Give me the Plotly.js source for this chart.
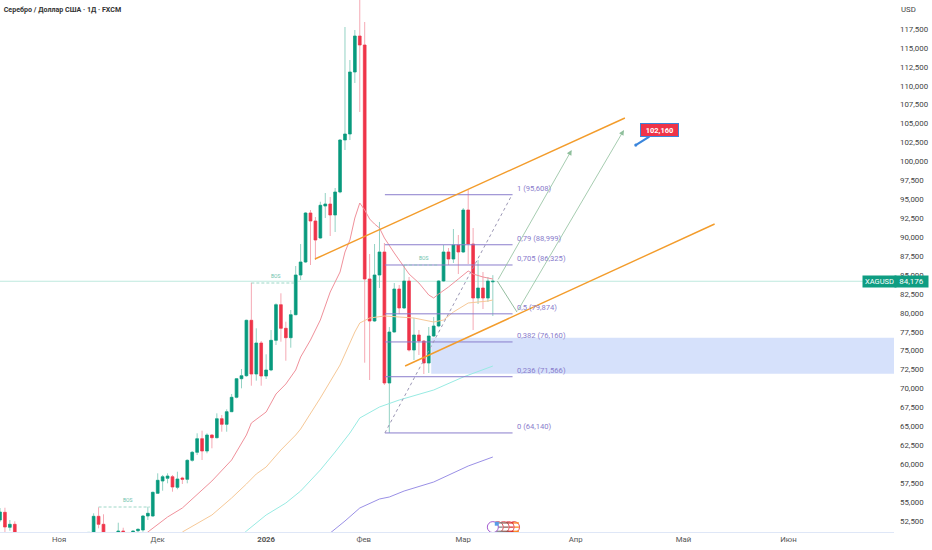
<!DOCTYPE html>
<html><head><meta charset="utf-8">
<script src="https://cdn.plot.ly/plotly-3.0.1.min.js"></script>
<style>html,body{margin:0;padding:0;background:#fff}</style></head>
<body><div id="chart" style="width:932px;height:550px"></div>
<script>
const barIndex = Array.from({length:101},(_,i)=>i);
const opens = [52638,53655,51672,52071,50600,49900,49500,49700,49300,48800,48400,48600,48300,48900,49200,48800,49400,49900,50300,51011,53127,52071,50500,50000,50500,51183,50600,50400,51225,51317,53166,53166,56165,57790,58146,58357,56956,58186,58014,60523,61582,63378,61753,63867,63510,66020,65280,66945,68847,71304,71700,79018,71925,76020,71660,72453,76376,81079,77962,76720,79758,85002,86720,93193,92136,89890,94117,94382,92929,95967,102836,103629,111819,116574,115385,84474,78926,85002,88041,70736,77473,83153,80643,84210,75095,77077,76283,73376,76944,78265,84210,88041,87116,88966,88041,93589,89098,81964,83285,81964,84100];
const highs = [54224,54263,52638,52466,51000,50700,50300,50200,49900,49700,49300,49400,49300,49700,49900,50000,50400,50800,51050,53523,54316,53391,51000,50950,52281,51620,50900,51260,51541,53298,54395,56376,58806,58582,58806,58582,59018,58357,60656,61753,64091,64435,64091,63959,66732,66508,67260,69283,71400,72585,79100,83985,77962,76283,74527,77737,81264,82585,78833,80379,86191,89098,93325,93589,92664,94685,95835,95306,96495,102950,117763,113404,117367,122000,118424,87777,89098,92004,89230,78133,83946,83682,86323,84738,79322,77737,76400,78133,79454,84342,88966,88569,91079,90286,93853,96231,91211,86984,85399,84738,84981];
const lows = [52374,50920,51225,49996,49300,49200,48900,48900,48300,48100,47900,47900,47900,48500,48700,48400,48900,49600,50000,50881,51541,49996,49800,49700,50000,50100,50000,50000,51011,51092,52638,53074,56072,56508,57485,56376,56693,57394,57485,60339,61224,60564,61449,62109,63430,64302,64302,66900,68714,70034,71568,70379,71040,70379,71264,72300,75755,76191,73682,75398,79700,84342,86588,86323,86984,89798,92532,90154,90683,95800,101515,102836,110366,106535,73418,71132,78800,83285,70472,64140,77400,79851,80500,74900,73774,74435,71925,72056,76800,78100,84078,86323,86588,85135,87908,86456,77737,81172,80509,81436,79586];
const closes = [53694,51713,52071,50657,49900,49500,49700,49300,48800,48400,48600,48300,48900,49200,48800,49400,49900,50300,51000,53127,52071,50432,50200,50500,51183,50600,50300,51183,51410,53166,53523,56298,57882,58357,58450,56997,58054,58014,60523,61582,63378,61753,63867,63510,66020,65280,66945,68847,71304,71700,79018,71925,76020,71660,72453,76376,81079,77962,76720,79758,85002,86720,93193,92136,89626,94210,94382,92929,95967,102836,103629,111819,116574,115385,84474,78926,85002,88041,70736,77473,83153,80643,84210,75095,77077,76283,73376,76944,78265,84210,88041,87116,88966,88041,93589,89098,81964,83285,81964,84210,84176];

const pinkX = [28,30,34,37,41,43,47,50,51,54,56,58,60,61,63,65,67,69,70,71,72,73,74,75,76,77,78,80,83,85,87,88,89,91,93,95,96,98,100];
const pinkY = [49996,51053,53034,54223,56601,57790,60564,63867,65450,66907,69283,70606,72453,74170,76416,79058,82757,85399,88041,89626,92532,94514,93589,92400,91740,91211,89890,87908,85135,83946,82360,81964,82492,83417,84474,85531,85135,84738,84474];
const orangeX = [36,37,43,47,50,52,54,57,60,61,65,69,72,73,75,78,81,84,88,90,92,95,99,100];
const orangeY = [49996,51053,53298,55544,57394,58715,59639,61885,63867,64659,68754,73113,77473,78661,79322,79586,79454,79322,78794,79058,80115,81304,81568,81700];
const cyanX = [47,49,50,54,58,61,65,68,71,73,77,81,88,94,100];
const cyanY = [49335,50657,51183,53298,54882,56469,59243,61622,64130,66112,67565,68490,69811,71528,72977];
const indigoX = [65,67,70,73,77,79,82,88,95,100];
const indigoY = [49996,50921,52506,54223,55412,55676,56467,57658,59771,60960];

const channelUpperX = [63.9,126.8], channelUpperY = [87116,105742];
const channelLowerX = [82.2,145], channelLowerY = [72981,91739];
const fibStartX = 78.1, fibEndX = 104;
const fibValues = [95608,88999,86325,79874,76160,71566,64140];
const fibLabels = ["1 (95,608)","0,79 (88,999)","0,705 (86,325)","0,5 (79,874)","0,382 (76,160)","0,236 (71,566)","0 (64,140)"];
const fibDiagX = [78.1,103.9], fibDiagY = [64140,95608];
const bosX = [[20,30.4],[51,60],[82,89]], bosY = [54356,83946,86323];
const bosLabelX = [26,56,86], bosLabelY = [55280,84870,87248];
const zoneX = [87.5,181.4], zoneY = [71950,76720];
const lastPrice = 84176;
const targetX = 129, targetPrice = 102160;
const pathTailX = [100.9,104.9], pathTailY = [84210,80114];
const arrowA = {x0:100.9,y0:84210,x1:116,y1:101515};
const arrowB = {x0:104.9,y0:80114,x1:126.6,y1:104157};
const eventX = [104.3,103.2,102.2,101,100], eventY = 51700;
const eventStripeY = [52250,51700,51150];
const xTickVals = [12,32,54,73.8,94,116.8,138.7,160];
const xTickText = ["Ноя","Дек","<b>2026</b>","Фев","Мар","Апр","Май","Июн"];
const yTicks = [52500,55000,57500,60000,62500,65000,67500,70000,72500,75000,77500,80000,82500,85000,87500,90000,92500,95000,97500,100000,102500,105000,107500,110000,112500,115000,117500];

const GREEN="#089a7e", RED="#ef3449", GW="#93d2c4", RW="#f5a9b4", FIB="#8a7dcc", FONT="Roboto, sans-serif";
const bodyHi = opens.map((o,i)=>Math.max(o,closes[i])), bodyLo = opens.map((o,i)=>Math.min(o,closes[i]));
const line=(x,y,color,width,dash)=>({type:'scatter',mode:'lines',x,y,line:{color,width,dash:dash||'solid'},hoverinfo:'skip'});
const traces=[
 {type:'candlestick',x:barIndex,open:opens,high:highs,low:lows,close:closes,
  increasing:{line:{color:GW,width:1},fillcolor:GW},decreasing:{line:{color:RW,width:1},fillcolor:RW},hoverinfo:'skip'},
 {type:'candlestick',x:barIndex,open:opens,high:bodyHi,low:bodyLo,close:closes,
  increasing:{line:{color:GREEN,width:0.5},fillcolor:GREEN},decreasing:{line:{color:RED,width:0.5},fillcolor:RED},hoverinfo:'skip'},
 line(pinkX,pinkY,"#f0919b",1),
 line(orangeX,orangeY,"#f6c897",1),
 line(cyanX,cyanY,"#98ebe3",1),
 line(indigoX,indigoY,"#9a90e6",1),
];
fibValues.forEach(v=>traces.push(line([fibStartX,fibEndX],[v,v],FIB,1)));
traces.push(line(fibDiagX,fibDiagY,"#9b97b5",1,'3px,3px'));
bosX.forEach((x,i)=>traces.push(line(x,[bosY[i],bosY[i]],"#86cdb9",0.8,'3px,2px')));
traces.push(line(channelUpperX,channelUpperY,"#f39c2b",1.4));
traces.push(line(channelLowerX,channelLowerY,"#f39c2b",1.4));
traces.push(line(pathTailX,pathTailY,"#93bd9f",1));
eventX.forEach((ex,k)=>{
 traces.push({type:'scatter',mode:'markers',x:[ex],y:[eventY],hoverinfo:'skip',
  marker:{size:11,color:"#fff",line:{color:k===4?"#a45bd0":"#e5505a",width:1}}});
 if(k<4) traces.push({type:'scatter',mode:'markers',x:eventStripeY.map(()=>ex),y:eventStripeY,hoverinfo:'skip',
  marker:{symbol:'line-ew-open',size:7,line:{color:"#e5505a",width:1.2}}});
});
traces.push({type:'scatter',mode:'markers',x:[100.8],y:[52150],hoverinfo:'skip',marker:{size:4,symbol:'square',color:"#5a9be8"}});

const annotations=[];
fibValues.forEach((v,i)=>annotations.push({x:104.5,y:v,xref:'x',yref:'y',text:fibLabels[i],showarrow:false,xanchor:'left',yanchor:'middle',yshift:6,font:{family:FONT,size:7.6,color:FIB}}));
bosLabelX.forEach((x,i)=>annotations.push({x,y:bosLabelY[i],xref:'x',yref:'y',text:'BOS',showarrow:false,font:{family:FONT,size:5,color:"#6cc2ab"}}));
[arrowA,arrowB].forEach(a=>annotations.push({x:a.x1,y:a.y1,ax:a.x0,ay:a.y0,xref:'x',yref:'y',axref:'x',ayref:'y',text:'',showarrow:true,arrowhead:2,arrowsize:1.3,arrowwidth:0.8,arrowcolor:"#8fbf9c"}));
annotations.push({x:targetX,y:targetPrice,xref:'x',yref:'y',ax:24,ay:-15,text:'<b>102,160</b>',showarrow:true,arrowhead:6,arrowsize:0.35,arrowwidth:2.2,arrowcolor:"#3b86dc",
 bgcolor:RED,bordercolor:"#3b86dc",borderwidth:1,borderpad:1,width:35,height:10,font:{family:FONT,size:7.5,color:"#fff"}});
annotations.push({x:862/894,y:lastPrice,xref:'paper',yref:'y',xanchor:'left',yanchor:'middle',text:'XAGUSD',showarrow:false,bgcolor:"#0f9d82",width:31,height:9,font:{family:FONT,size:7.5,color:"#fff"}});
annotations.push({x:1,y:lastPrice,xref:'paper',yref:'y',xanchor:'left',yanchor:'middle',text:String(lastPrice).replace(/(\d\d)(\d{3})$/,'$1,$2'),showarrow:false,bgcolor:"#0f9d82",width:31,height:9,font:{family:FONT,size:8,color:"#fff"}});
annotations.push({x:1,y:1,xref:'paper',yref:'paper',xanchor:'left',yanchor:'middle',xshift:5,yshift:-9,text:'USD',showarrow:false,font:{family:FONT,size:7.8,color:"#444"}});

const layout={width:932,height:550,margin:{l:0,r:38,t:0,b:18,pad:0},paper_bgcolor:"#fff",plot_bgcolor:"#fff",showlegend:false,hovermode:false,boxgap:0.22,
 title:{text:"<b>Серебро / Доллар США · 1Д · FXCM</b>",x:0.004,xanchor:'left',y:0.983,yanchor:'middle',font:{family:FONT,size:7.1,color:"#333"}},
 xaxis:{type:'linear',range:[0,181.4],rangeslider:{visible:false},showgrid:false,zeroline:false,showline:true,linecolor:"#dfe7f7",linewidth:1,tickmode:'array',tickvals:xTickVals,ticktext:xTickText,ticks:'',tickfont:{family:FONT,size:7.8,color:"#555"}},
 yaxis:{side:'right',range:[51054,121330],showgrid:false,zeroline:false,showline:false,tickmode:'array',tickvals:yTicks,ticktext:yTicks.map(v=>v.toLocaleString('en-US')),ticks:'',ticklabelstandoff:5,tickfont:{family:FONT,size:7.9,color:"#444"}},
 shapes:[
  {type:'rect',xref:'x',yref:'y',x0:zoneX[0],x1:zoneX[1],y0:zoneY[0],y1:zoneY[1],fillcolor:"#d6e1fb",line:{width:0},layer:'below'},
  {type:'line',xref:'paper',yref:'y',x0:0,x1:1,y0:lastPrice,y1:lastPrice,line:{color:"#bfe9de",width:1},layer:'below'}
 ],
 annotations};
Plotly.newPlot('chart',traces,layout,{staticPlot:true,displayModeBar:false});
</script></body></html>
